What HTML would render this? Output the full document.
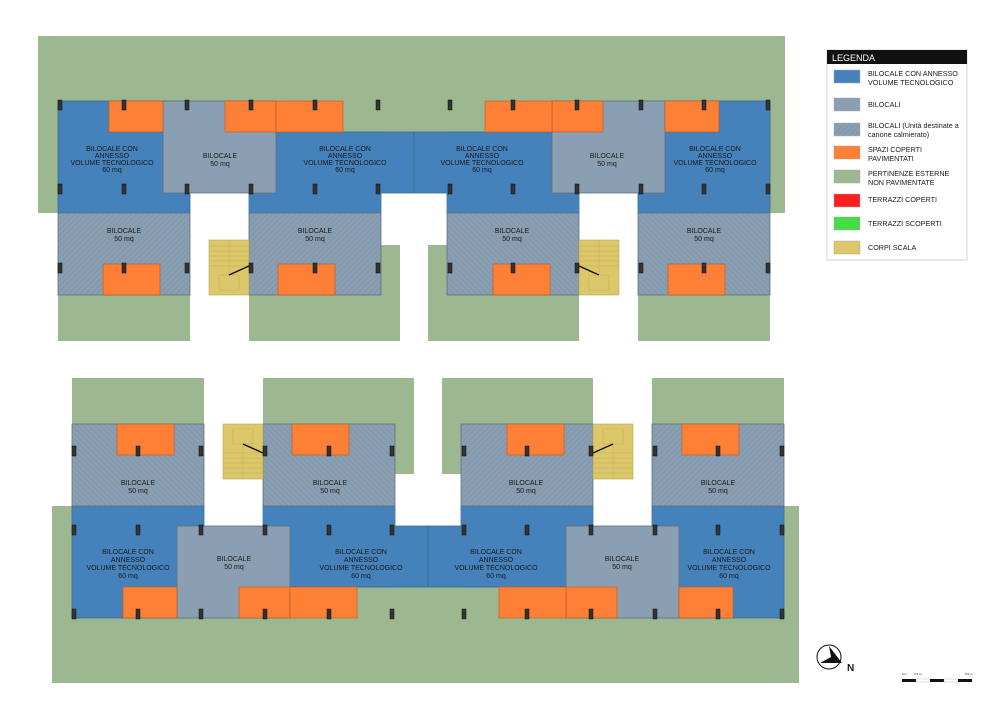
<!DOCTYPE html>
<html><head><meta charset="utf-8"><style>
html,body{margin:0;padding:0;background:#fff;}
svg{display:block;}
text{font-family:"Liberation Sans",sans-serif;fill:#1a1a1a;}
</style></head><body>
<svg width="1000" height="706" viewBox="0 0 1000 706" xmlns="http://www.w3.org/2000/svg">
<defs>
<pattern id="h" width="4" height="4" patternUnits="userSpaceOnUse" patternTransform="rotate(45)">
<rect width="4" height="4" fill="#8a9eb1"/><line x1="0" y1="0" x2="0" y2="4" stroke="#7d92a6" stroke-width="1.2"/>
</pattern>
<g id="half">
<!-- greens -->
<rect x="58" y="295" width="132" height="46" fill="#9db890"/>
<rect x="249" y="245" width="151" height="96" fill="#9db890"/>
<!-- blue units -->
<rect x="58" y="101" width="132" height="112" fill="#4581bb" stroke="#3a6a98" stroke-width="0.8"/>
<rect x="249" y="132" width="132" height="81" fill="#4581bb" stroke="#3a6a98" stroke-width="0.8"/>
<rect x="276" y="132" width="138" height="61" fill="#4581bb" stroke="#3a6a98" stroke-width="0.8"/>
<rect x="249" y="150" width="132" height="62" fill="#4581bb"/>
<!-- grey bilocale -->
<rect x="163" y="101" width="113" height="92" fill="#8a9fb1" stroke="#5f7080" stroke-width="0.8"/>
<!-- orange top -->
<rect x="109" y="101" width="54" height="31" fill="#fd8036" stroke="#b85a20" stroke-width="0.6"/>
<rect x="225" y="101" width="51" height="31" fill="#fd8036" stroke="#b85a20" stroke-width="0.6"/>
<rect x="276" y="101" width="67" height="31" fill="#fd8036" stroke="#b85a20" stroke-width="0.6"/>
<!-- hatched bilocali -->
<rect x="58" y="213" width="132" height="82" fill="url(#h)" stroke="#5f7080" stroke-width="0.8"/>
<rect x="249" y="213" width="132" height="82" fill="url(#h)" stroke="#5f7080" stroke-width="0.8"/>
<rect x="103" y="264" width="57" height="31" fill="#fd8036" stroke="#b85a20" stroke-width="0.6"/>
<rect x="278" y="264" width="57" height="31" fill="#fd8036" stroke="#b85a20" stroke-width="0.6"/>
<!-- stair -->
<rect x="209" y="240" width="40" height="55" fill="#dcc86a" stroke="#b8a450" stroke-width="0.6"/>
<g stroke="#c0ac55" stroke-width="0.5">
<line x1="209" y1="246" x2="249" y2="246"/><line x1="209" y1="251" x2="249" y2="251"/><line x1="209" y1="256" x2="249" y2="256"/><line x1="209" y1="261" x2="249" y2="261"/><line x1="209" y1="266" x2="249" y2="266"/><line x1="229" y1="240" x2="229" y2="275"/><rect x="219" y="275" width="20" height="15" fill="none"/>
</g>
<line x1="229" y1="275" x2="249" y2="266" stroke="#111" stroke-width="1.5"/>
<!-- pillars -->
<g fill="#333" stroke="#111" stroke-width="0.5">
<rect x="58" y="100" width="4" height="10"/><rect x="122" y="100" width="4" height="10"/><rect x="185" y="100" width="4" height="10"/><rect x="249" y="100" width="4" height="10"/><rect x="313" y="100" width="4" height="10"/><rect x="376" y="100" width="4" height="10"/>
<rect x="58" y="184" width="4" height="10"/><rect x="122" y="184" width="4" height="10"/><rect x="185" y="184" width="4" height="10"/><rect x="249" y="184" width="4" height="10"/><rect x="313" y="184" width="4" height="10"/><rect x="376" y="184" width="4" height="10"/>
<rect x="58" y="263" width="4" height="10"/><rect x="122" y="263" width="4" height="10"/><rect x="185" y="263" width="4" height="10"/><rect x="249" y="263" width="4" height="10"/><rect x="313" y="263" width="4" height="10"/><rect x="376" y="263" width="4" height="10"/>
</g>
</g>
<g id="bld">
<rect x="38" y="36" width="747" height="96" fill="#9db890"/>
<rect x="38" y="100" width="21" height="113" fill="#9db890"/>
<rect x="769" y="100" width="16" height="113" fill="#9db890"/>
<use href="#half"/>
<use href="#half" transform="translate(828,0) scale(-1,1)"/>
</g>
</defs>

<use href="#bld"/>
<use href="#bld" transform="translate(14,719) scale(1,-1)"/>

<g font-size="7" text-anchor="middle">
<text x="112" y="151">BILOCALE CON</text><text x="112" y="158">ANNESSO</text><text x="112" y="165">VOLUME TECNOLOGICO</text><text x="112" y="172">60 mq</text>
<text x="345" y="151">BILOCALE CON</text><text x="345" y="158">ANNESSO</text><text x="345" y="165">VOLUME TECNOLOGICO</text><text x="345" y="172">60 mq</text>
<text x="482" y="151">BILOCALE CON</text><text x="482" y="158">ANNESSO</text><text x="482" y="165">VOLUME TECNOLOGICO</text><text x="482" y="172">60 mq</text>
<text x="715" y="151">BILOCALE CON</text><text x="715" y="158">ANNESSO</text><text x="715" y="165">VOLUME TECNOLOGICO</text><text x="715" y="172">60 mq</text>
<text x="220" y="158">BILOCALE</text><text x="220" y="166">50 mq</text>
<text x="607" y="158">BILOCALE</text><text x="607" y="166">50 mq</text>
<text x="124" y="233">BILOCALE</text><text x="124" y="241">50 mq</text>
<text x="315" y="233">BILOCALE</text><text x="315" y="241">50 mq</text>
<text x="512" y="233">BILOCALE</text><text x="512" y="241">50 mq</text>
<text x="704" y="233">BILOCALE</text><text x="704" y="241">50 mq</text>
<text x="128" y="554">BILOCALE CON</text><text x="128" y="562">ANNESSO</text><text x="128" y="570">VOLUME TECNOLOGICO</text><text x="128" y="578">60 mq</text>
<text x="361" y="554">BILOCALE CON</text><text x="361" y="562">ANNESSO</text><text x="361" y="570">VOLUME TECNOLOGICO</text><text x="361" y="578">60 mq</text>
<text x="496" y="554">BILOCALE CON</text><text x="496" y="562">ANNESSO</text><text x="496" y="570">VOLUME TECNOLOGICO</text><text x="496" y="578">60 mq</text>
<text x="729" y="554">BILOCALE CON</text><text x="729" y="562">ANNESSO</text><text x="729" y="570">VOLUME TECNOLOGICO</text><text x="729" y="578">60 mq</text>
<text x="234" y="561">BILOCALE</text><text x="234" y="569">50 mq</text>
<text x="622" y="561">BILOCALE</text><text x="622" y="569">50 mq</text>
<text x="138" y="485">BILOCALE</text><text x="138" y="493">50 mq</text>
<text x="330" y="485">BILOCALE</text><text x="330" y="493">50 mq</text>
<text x="526" y="485">BILOCALE</text><text x="526" y="493">50 mq</text>
<text x="718" y="485">BILOCALE</text><text x="718" y="493">50 mq</text>
</g>

<rect x="827" y="50" width="140" height="210" fill="#fff" stroke="#ccc" stroke-width="0.8"/>
<rect x="827" y="50" width="140" height="14" fill="#111"/>
<text x="832" y="61" font-size="9" style="fill:#fff">LEGENDA</text>
<g stroke="#aaa" stroke-width="0.5">
<rect x="834" y="70" width="26" height="13" fill="#4581bb"/>
<rect x="834" y="98" width="26" height="13" fill="#8a9fb1"/>
<rect x="834" y="123" width="26" height="13" fill="url(#h)"/>
<rect x="834" y="146" width="26" height="13" fill="#fd8036"/>
<rect x="834" y="170" width="26" height="13" fill="#9db890"/>
<rect x="834" y="194" width="26" height="13" fill="#fb2020"/>
<rect x="834" y="217" width="26" height="13" fill="#44dd44"/>
<rect x="834" y="241" width="26" height="13" fill="#dcc86a"/>
</g>
<g font-size="7.2">
<text x="868" y="76">BILOCALE CON ANNESSO</text><text x="868" y="85">VOLUME TECNOLOGICO</text>
<text x="868" y="107">BILOCALI</text>
<text x="868" y="128">BILOCALI (Unità destinate a</text><text x="868" y="137">canone calmierato)</text>
<text x="868" y="152">SPAZI COPERTI</text><text x="868" y="161">PAVIMENTATI</text>
<text x="868" y="176">PERTINENZE ESTERNE</text><text x="868" y="185">NON PAVIMENTATE</text>
<text x="868" y="202">TERRAZZI COPERTI</text>
<text x="868" y="226">TERRAZZI SCOPERTI</text>
<text x="868" y="250">CORPI SCALA</text>
</g>

<circle cx="829" cy="657" r="12" fill="#fff" stroke="#111" stroke-width="1"/>
<polygon points="820,663 842,663 829,646 831,657" fill="#111"/>
<text x="847" y="671" font-size="10" font-weight="bold">N</text>
<g>
<rect x="902" y="679" width="14" height="3" fill="#111"/><rect x="916" y="679" width="14" height="3" fill="#fff" stroke="#999" stroke-width="0.3"/>
<rect x="930" y="679" width="14" height="3" fill="#111"/><rect x="944" y="679" width="14" height="3" fill="#fff" stroke="#999" stroke-width="0.3"/>
<rect x="958" y="679" width="14" height="3" fill="#111"/>
<text x="902" y="675" font-size="3">0 m</text><text x="914" y="675" font-size="3">2.5 m</text><text x="965" y="675" font-size="3">5.0 m</text>
</g>
</svg>
</body></html>
